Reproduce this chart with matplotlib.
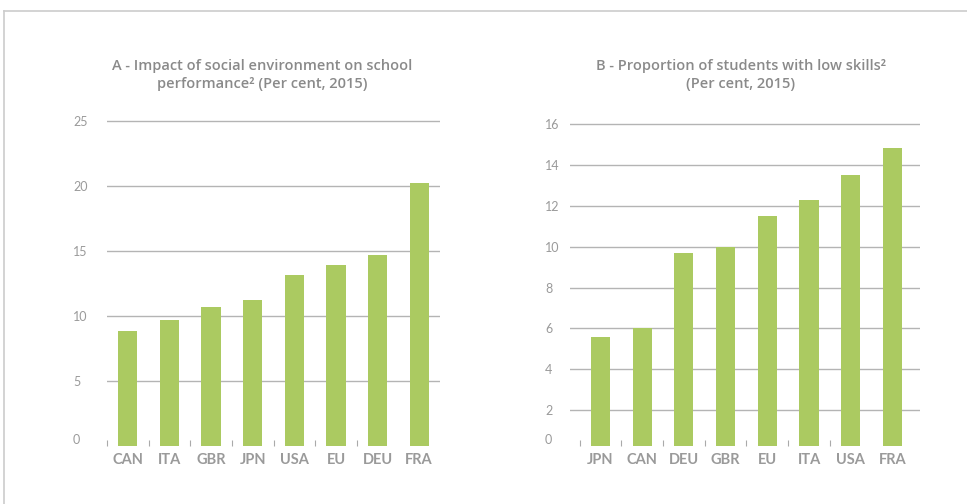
import numpy as np
import matplotlib
matplotlib.use("Agg")
import matplotlib.pyplot as plt
from matplotlib.lines import Line2D
import matplotlib.transforms as mtransforms

# panel A: impact of social environment on school performance (%)
cats_a = ["CAN", "ITA", "GBR", "JPN", "USA", "EU", "DEU", "FRA"]
vals_a = [8.8, 9.7, 10.7, 11.2, 13.1, 13.9, 14.7, 20.2]
ticks_a = [0, 5, 10, 15, 20, 25]
title_a = "A - Impact of social environment on school\nperformance\u00b2 (Per cent, 2015)"

# panel B: proportion of students with low skills (%)
cats_b = ["JPN", "CAN", "DEU", "GBR", "EU", "ITA", "USA", "FRA"]
vals_b = [5.6, 6.0, 9.7, 10.0, 11.5, 12.3, 13.5, 14.8]
ticks_b = [2, 4, 6, 8, 10, 12, 14, 16]
title_b = "B - Proportion of students with low skills\u00b2\n(Per cent, 2015)"

GREEN = "#abca61"
GRID = "#b4b4b4"
TXT = "#9a9a9a"
TITLE = "#8a8a8a"
plt.rcParams["font.family"] = ["Lato", "DejaVu Sans"]

W, H = 967, 504
fig = plt.figure(figsize=(W / 100, H / 100), dpi=100)

# light frame along the top and left edges
fig.add_artist(Line2D([4 / W, 1], [1 - 10.5 / H] * 2, color="#cccccc", lw=1.2))
fig.add_artist(Line2D([4 / W] * 2, [0, 1 - 10.5 / H], color="#cccccc", lw=1.2))


def panel(rect, cats, vals, yticks, ylim, xlim, title, title_x, label_pad, zero_text):
    ax = fig.add_axes(rect)
    x = np.arange(len(cats))
    ax.bar(x, vals, width=0.46, color=GREEN, zorder=2)
    for t in yticks:
        if t > 0:
            ax.axhline(t, color=GRID, lw=1.0, zorder=1)
    ax.set_xlim(*xlim)
    ax.set_ylim(*ylim)
    ax.set_yticks(yticks)
    ax.set_yticklabels([str(t) for t in yticks])
    for lab in ax.get_yticklabels():
        lab.set_horizontalalignment("left")
        if lab.get_text() == "0":
            lab.set_verticalalignment("bottom")
    ax.tick_params(axis="y", length=0, pad=label_pad, labelsize=9, labelcolor=TXT)
    ax.set_xticks(x)
    ax.set_xticklabels(cats, fontweight="bold")
    ax.tick_params(axis="x", length=0, pad=5, labelsize=10.5, labelcolor=TXT)
    ax.set_xticks(x[:-1] - 0.5, minor=True)
    ax.tick_params(axis="x", which="minor", length=4, width=0.8, color="#aaaaaa",
                   direction="in", pad=0)
    for s in ax.spines.values():
        s.set_visible(False)
    if zero_text:
        tr = mtransforms.offset_copy(
            mtransforms.blended_transform_factory(ax.transAxes, ax.transData),
            fig=fig, x=-label_pad, y=0, units="points")
        ax.text(0, ylim[0], "0", transform=tr, ha="left", va="bottom",
                fontsize=9, color=TXT)
    fig.text(title_x, 1 - 75 / H, title, ha="center", va="center", fontsize=10.5,
             fontweight="semibold", color=TITLE, linespacing=1.4,
             family=["Open Sans", "DejaVu Sans"])
    return ax


panel([107 / W, (H - 445.7) / H, 333 / W, 326.3 / H], cats_a, vals_a, ticks_a,
      (0, 25.1), (-0.5, 7.5), title_a, 262 / W, 24.5, False)
panel([570 / W, (H - 446) / H, 350 / W, 323.1 / H], cats_b, vals_b, ticks_b,
      (0.25, 16.05), (-0.73, 7.66), title_b, 741 / W, 18, True)

fig.savefig("out.png", dpi=100)
